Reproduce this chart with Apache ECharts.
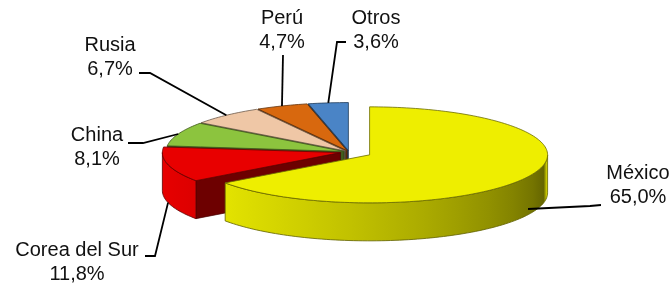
<!DOCTYPE html>
<html>
<head>
<meta charset="utf-8">
<script src="https://cdn.jsdelivr.net/npm/echarts@6/dist/echarts.min.js"></script>
<style>
  html, body { margin: 0; padding: 0; background: #fff; }
  #chart { width: 671px; height: 285px; }
</style>
</head>
<body>
<div id="chart"></div>
<script>
// participación por país (%)
var paises = ['México', 'Corea del Sur', 'China', 'Rusia', 'Perú', 'Otros'];
var valores = [65.0, 11.8, 8.1, 6.7, 4.7, 3.6];
var etiquetasPct = ['65,0%', '11,8%', '8,1%', '6,7%', '4,7%', '3,6%'];
var colores = ['#eeee00', '#e80000', '#8cc43e', '#efc7a6', '#d8680e', '#4a84c6'];

// geometría del pastel 3D (elipse + altura)
var cx = 349, cy = 152, rx = 178, ry = 48, alto = 38;
var explosion = [0.13, 0.05, 0.03, 0.03, 0.03, 0.03];

// posición de etiquetas y líneas guía
var rotulos = [
  { x: 638, y: 185, codo: [590, 206], fin: [601, 205], frac: 0.5, prof: 0.85 },
  { x: 77, y: 262, codo: [155, 256], fin: [145, 256], frac: 0.5, prof: 1.0 },
  { x: 97, y: 147, codo: [143, 143], fin: [128, 143], frac: 0.5, prof: 0 },
  { x: 110, y: 57, codo: [150, 73], fin: [139, 73], frac: 0.5, prof: 0 },
  { x: 282, y: 30, codo: [283, 55], fin: [283, 55], frac: 0.5, prof: 0 },
  { x: 376, y: 30, codo: [337, 42], fin: [346, 42], frac: 0.5, prof: 0 }
];

var RAD = Math.PI / 180;
var total = valores.reduce(function (a, b) { return a + b; }, 0);

// ángulos (grados matemáticos, sentido horario desde las 12)
var porciones = [];
var acum = 0;
valores.forEach(function (v, i) {
  var a1 = 90 - acum / total * 360;
  acum += v;
  var a0 = 90 - acum / total * 360;
  var mid = (a0 + a1) / 2;
  porciones.push({
    a0: a0, a1: a1, mid: mid,
    x: cx + explosion[i] * rx * Math.cos(mid * RAD),
    y: cy - explosion[i] * ry * Math.sin(mid * RAD)
  });
});

// orden de pintado: de atrás hacia adelante
var orden = porciones.map(function (p, i) { return i; })
  .sort(function (a, b) { return Math.sin(porciones[b].mid * RAD) - Math.sin(porciones[a].mid * RAD); });
var rango = [];
orden.forEach(function (idx, k) { rango[idx] = k; });

function punto(p, t, h) {
  return [p.x + rx * Math.cos(t * RAD), p.y - ry * Math.sin(t * RAD) + (h || 0)];
}

function tono(hex, f) {
  var n = parseInt(hex.slice(1), 16);
  var r = Math.round(((n >> 16) & 255) * f);
  var g = Math.round(((n >> 8) & 255) * f);
  var b = Math.round((n & 255) * f);
  return 'rgb(' + r + ',' + g + ',' + b + ')';
}

function sombra(t) {
  var tn = ((t % 360) + 360) % 360;
  if (tn < 180) tn = 180;
  var u = (tn - 180) / 180;
  return 1 - 0.64 * Math.pow(u, 1.6);
}

function renderItem(params, api) {
  var i = params.dataIndex;
  var p = porciones[i];
  var col = colores[i];
  var base = rango[i] * 100;
  var hijos = [];

  // caras radiales visibles
  [[p.a1, Math.cos(p.a1 * RAD) < -0.01], [p.a0, Math.cos(p.a0 * RAD) > 0.01]].forEach(function (c) {
    if (!c[1]) return;
    var e = punto(p, c[0], 0);
    hijos.push({
      type: 'polygon', z2: base + 1,
      shape: { points: [[p.x, p.y], e, [e[0], e[1] + alto], [p.x, p.y + alto]] },
      style: { fill: tono(col, 0.47), stroke: tono(col, 0.3), lineWidth: 0.7 }
    });
  });

  // pared exterior (solo la mitad frontal), con degradado según el ángulo
  for (var k = -1; k <= 1; k++) {
    var lo = Math.max(p.a0, 180 + 360 * k), hi = Math.min(p.a1, 360 + 360 * k);
    if (hi <= lo) continue;
    var n = Math.max(2, Math.ceil((hi - lo) / 1.5));
    var arriba = [], abajo = [];
    for (var s = 0; s <= n; s++) {
      var t = lo + (hi - lo) * s / n;
      arriba.push(punto(p, t, 0));
      abajo.unshift(punto(p, t, alto));
    }
    var x0 = punto(p, lo, 0)[0], x1 = punto(p, hi, 0)[0];
    var paradas = [];
    for (var m = 0; m <= 12; m++) {
      var tm = lo + (hi - lo) * m / 12;
      var xm = punto(p, tm, 0)[0];
      paradas.push({ offset: Math.min(1, Math.max(0, (xm - x0) / (x1 - x0))), color: tono(col, sombra(tm)) });
    }
    hijos.push({
      type: 'polygon', z2: base + 2,
      shape: { points: arriba.concat(abajo) },
      style: {
        fill: new echarts.graphic.LinearGradient(x0, 0, x1, 0, paradas, true),
        stroke: tono(col, 0.4), lineWidth: 0.8
      }
    });
  }

  // cara superior
  var pts = [[p.x, p.y]];
  var pasos = Math.max(2, Math.ceil((p.a1 - p.a0) / 1.5));
  for (var j = 0; j <= pasos; j++) {
    pts.push(punto(p, p.a0 + (p.a1 - p.a0) * j / pasos, 0));
  }
  hijos.push({
    type: 'polygon', z2: base + 4,
    shape: { points: pts },
    style: { fill: col, stroke: tono(col, 0.45), lineWidth: 0.8 }
  });

  // línea guía y rótulo
  var r = rotulos[i];
  var ta = p.a1 - r.frac * (p.a1 - p.a0);
  var ancla = punto(p, ta, r.prof * alto);
  hijos.push({
    type: 'polyline', z2: 1000,
    shape: { points: [ancla, r.codo, r.fin] },
    style: { fill: null, stroke: '#000', lineWidth: 1.8 }
  });
  hijos.push({
    type: 'text', z2: 1001,
    x: r.x, y: r.y,
    style: {
      text: paises[i] + '\n' + etiquetasPct[i],
      fill: '#111',
      font: '20px "Liberation Sans", Arial, sans-serif',
      lineHeight: 24,
      align: 'center',
      verticalAlign: 'middle'
    }
  });

  return { type: 'group', children: hijos };
}

var chart = echarts.init(document.getElementById('chart'));
chart.setOption({
  animation: false,
  backgroundColor: '#fff',
  series: [{
    type: 'custom',
    coordinateSystem: 'none',
    renderItem: renderItem,
    data: valores.map(function (v, i) { return { name: paises[i], value: v }; })
  }]
});
</script>
</body>
</html>
